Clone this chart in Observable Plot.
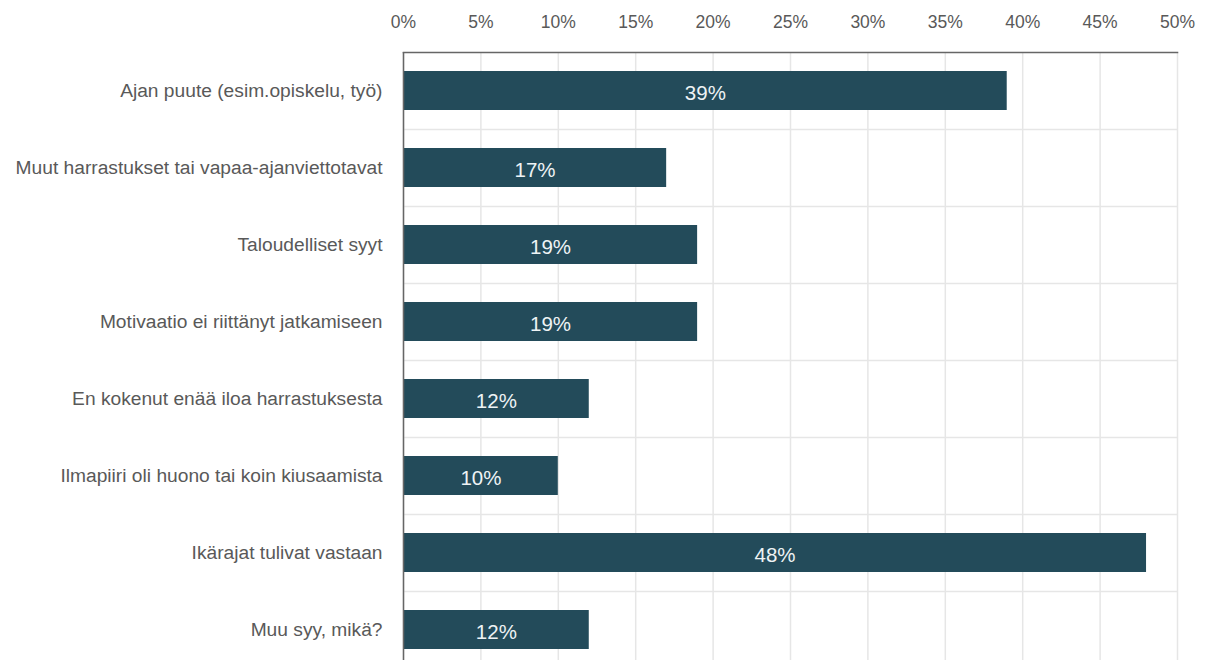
<!DOCTYPE html>
<html>
<head>
<meta charset="utf-8">
<script src="https://cdn.jsdelivr.net/npm/d3@7"></script>
<script src="https://cdn.jsdelivr.net/npm/@observablehq/plot@0.6"></script>
<style>
  html, body { margin: 0; padding: 0; background: #fff; overflow: hidden; }
  #chart { width: 1207px; height: 660px; overflow: hidden; }
</style>
</head>
<body>
<div id="chart"></div>
<script>
const categories = [
  "Ajan puute (esim.opiskelu, työ)",
  "Muut harrastukset tai vapaa-ajanviettotavat",
  "Taloudelliset syyt",
  "Motivaatio ei riittänyt jatkamiseen",
  "En kokenut enää iloa harrastuksesta",
  "Ilmapiiri oli huono tai koin kiusaamista",
  "Ikärajat tulivat vastaan",
  "Muu syy, mikä?"
];
const values = [39, 17, 19, 19, 12, 10, 48, 12];
const xTicks = [0, 5, 10, 15, 20, 25, 30, 35, 40, 45, 50];

const data = categories.map((c, i) => ({category: c, value: values[i]}));

const W = 1207, H = 668, mTop = 52, mBottom = 0, mLeft = 403, mRight = 30;
const step = (H - mTop - mBottom) / categories.length;

const chart = Plot.plot({
  width: W,
  height: H,
  marginTop: mTop,
  marginBottom: mBottom,
  marginLeft: mLeft,
  marginRight: mRight,
  style: {fontFamily: "'Liberation Sans', Arial, sans-serif", fontSize: "16px", color: "#595959", background: "#fff"},
  x: {domain: [0, 50], axis: null},
  y: {domain: categories, paddingInner: 0.5, paddingOuter: 0.25, axis: null},
  marks: [
    Plot.gridX(xTicks, {stroke: "#e6e6e6", strokeOpacity: 1, strokeWidth: 1.5}),
    Plot.tickY(categories, {y: d => d, dy: step / 2, stroke: "#e6e6e6", strokeWidth: 1.5}),
    Plot.barX(data, {y: "category", x: "value", fill: "#234b5a"}),
    Plot.text(data, {y: "category", x: d => d.value / 2, text: d => d.value + "%", fill: "#eef3f5", fontSize: 20.5, dy: 2}),
    Plot.ruleX([0], {stroke: "#666", strokeWidth: 1.5}),
    Plot.frame({anchor: "top", stroke: "#666", strokeWidth: 1.5}),
    Plot.axisX(xTicks, {anchor: "top", tickSize: 0, tickPadding: 25, tickFormat: d => d + "%", fontSize: 17.5, fill: "#595959", label: null}),
    Plot.axisY({tickSize: 0, tickPadding: 21, fontSize: 19.2, fill: "#595959", label: null})
  ]
});
document.getElementById("chart").append(chart);
</script>
</body>
</html>
